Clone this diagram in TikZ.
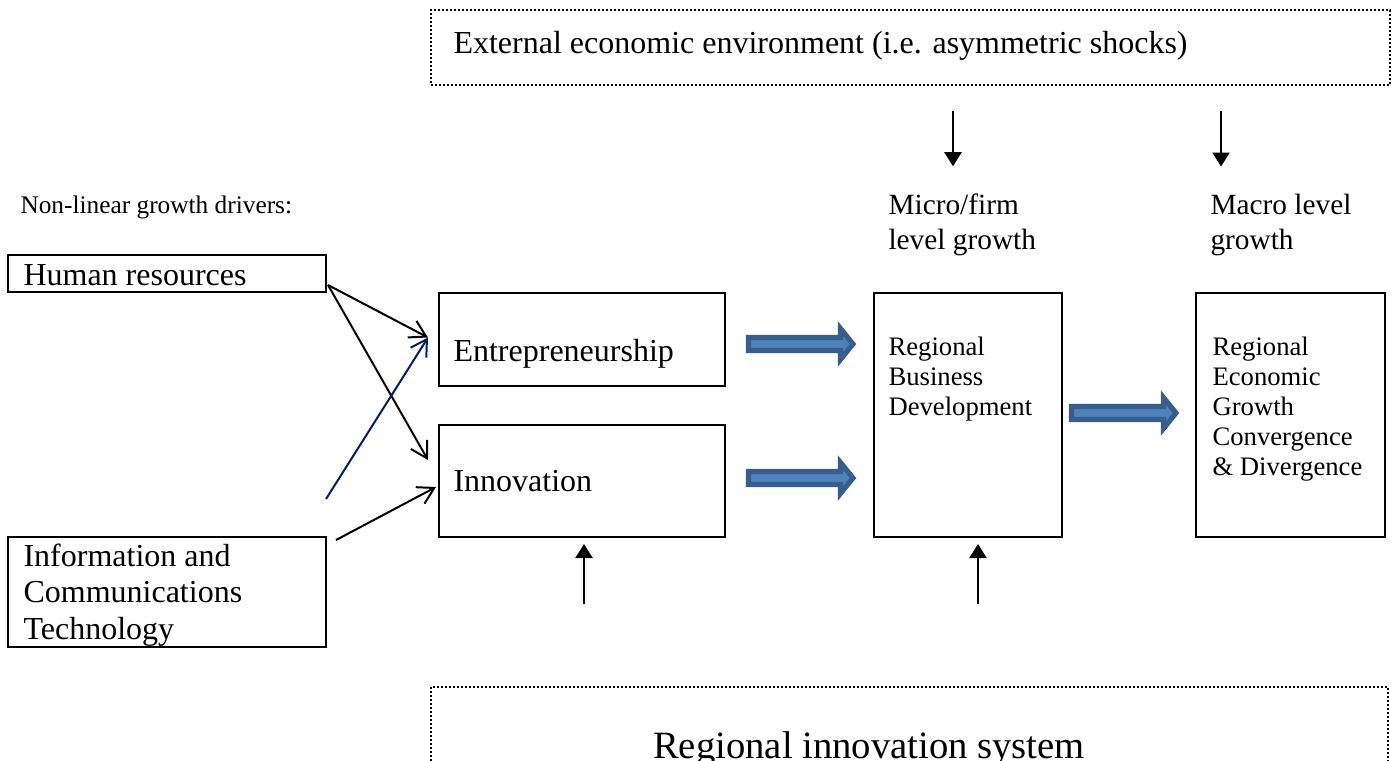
\documentclass[tikz,border=0pt]{standalone}
\usepackage{fontspec}
\setmainfont{Liberation Serif}
\usetikzlibrary{positioning, calc, fit, arrows.meta}
\definecolor{navyline}{RGB}{0,32,96}
\definecolor{fatfill}{RGB}{79,129,189}
\definecolor{fatline}{RGB}{56,93,138}
\tikzset{
x=0.375pt, y=-0.375pt, % one unit is one pixel of the page, y runs down
box/.style={draw, line width=0.75pt, inner sep=0pt}, % the solid boxes
dotbox/.style={draw, line width=0.75pt, dash pattern=on 0.75pt off 0.75pt, inner sep=0pt}, % the dotted frames
txt/.style={inner sep=0pt, anchor=base west, align=left, font=\fontsize{12}{13.6}\selectfont}, % placed by the baseline of the last line
small txt/.style={txt, font=\fontsize{10}{11.25}\selectfont},
mid txt/.style={txt, font=\fontsize{11}{13.1}\selectfont},
feed/.style={line width=0.75pt, -{Straight Barb[length=6pt, width=7pt]}}, % thin open arrows
push/.style={line width=0.75pt, -{Triangle[length=5.25pt, width=6.4pt]}}, % solid arrows
fat arrow/.pic={\draw[line width=1.9pt, draw=fatline, fill=fatfill] (0,-6.5) -- (92,-6.5) -- (92,-15.5) -- (104.5,0) -- (92,15.5) -- (92,6.5) -- (0,6.5) -- cycle;},
}
\begin{document}
\begin{tikzpicture}
  \useasboundingbox (0,0) rectangle (1395,760);
  % boxes
  \node[dotbox, fit={(431,10) (1390,85)}] (ext) {};
  \node[dotbox, fit={(431,687) (1388,805)}] (ris) {};
  \node[box, fit={(8,255) (326,292)}] (hr) {};
  \node[box, fit={(8,537) (326,647)}] (ict) {};
  \node[box, fit={(439,293) (725,386)}] (ent) {};
  \node[box, fit={(439,425) (725,537)}] (inno) {};
  \node[box, fit={(874,293) (1062,537)}] (rbd) {};
  \node[box, fit={(1196,293) (1385,537)}] (reg) {};
  % texts
  \node[txt] (ext text) at (453,53) {External economic environment (i.e. asymmetric shocks)};
  \node[txt, font=\fontsize{14.5}{17}\selectfont, anchor=base] (ris text) at (869,758) {Regional innovation system};
  \node[txt, font=\fontsize{9.5}{11}\selectfont] (drivers) at (20,213) {Non-linear growth drivers:};
  \node[txt] (hr text) at (23,285) {Human resources};
  \node[txt] (ict text) at (23,639) {Information and\\Communications\\Technology};
  \node[txt] (ent text) at (453,361) {Entrepreneurship};
  \node[txt] (inno text) at (453,491) {Innovation};
  \node[small txt] (rbd text) at (888,415) {Regional\\Business\\Development};
  \node[small txt] (reg text) at (1212,475) {Regional\\Economic\\Growth\\Convergence\\\& Divergence};
  \node[mid txt] (micro) at (888,249) {Micro/firm\\level growth};
  \node[mid txt] (macro) at (1210,249) {Macro level\\growth};
  % thin arrows into the two drivers
  \coordinate (hr out) at ($(hr.south east)+(1,-8)$);
  \coordinate (ict tail) at (326,499);
  \draw[feed] (hr out) -- ($(ent.west)+(-10,-2)$);
  \draw[feed] (hr out) -- ($(inno.west)+(-10,-21)$);
  \draw[feed, navyline] (ict tail) -- ($(ent.west)+(-10,-2)$);
  \draw[feed] ($(ict.north east)+(9,4)$) -- ($(inno.west)+(-2,6)$);
  % environment and innovation system
  \draw[push, shorten <=9.4pt, shorten >=10pt] (ext.south -| 953,0) -- (micro.north -| 953,0);
  \draw[push, shorten <=9.4pt, shorten >=10pt] (ext.south -| 1221,0) -- (macro.north -| 1221,0);
  \draw[push, shorten <=30.75pt, shorten >=2.25pt] ($(ris.north -| inno.south)+(2,0)$) -- ($(inno.south)+(2,0)$);
  \draw[push, shorten <=30.75pt, shorten >=2.25pt] ($(ris.north -| rbd.south)+(10,0)$) -- ($(rbd.south)+(10,0)$);
  % growth arrows
  \pic (ar1) at ($(ent.east)+(22.5,4.5)$) {fat arrow};
  \pic (ar2) at ($(inno.east)+(22.5,-3)$) {fat arrow};
  \pic (ar3) at ($(rbd.east)+(8.5,-2)$) {fat arrow};
\end{tikzpicture}
\end{document}
